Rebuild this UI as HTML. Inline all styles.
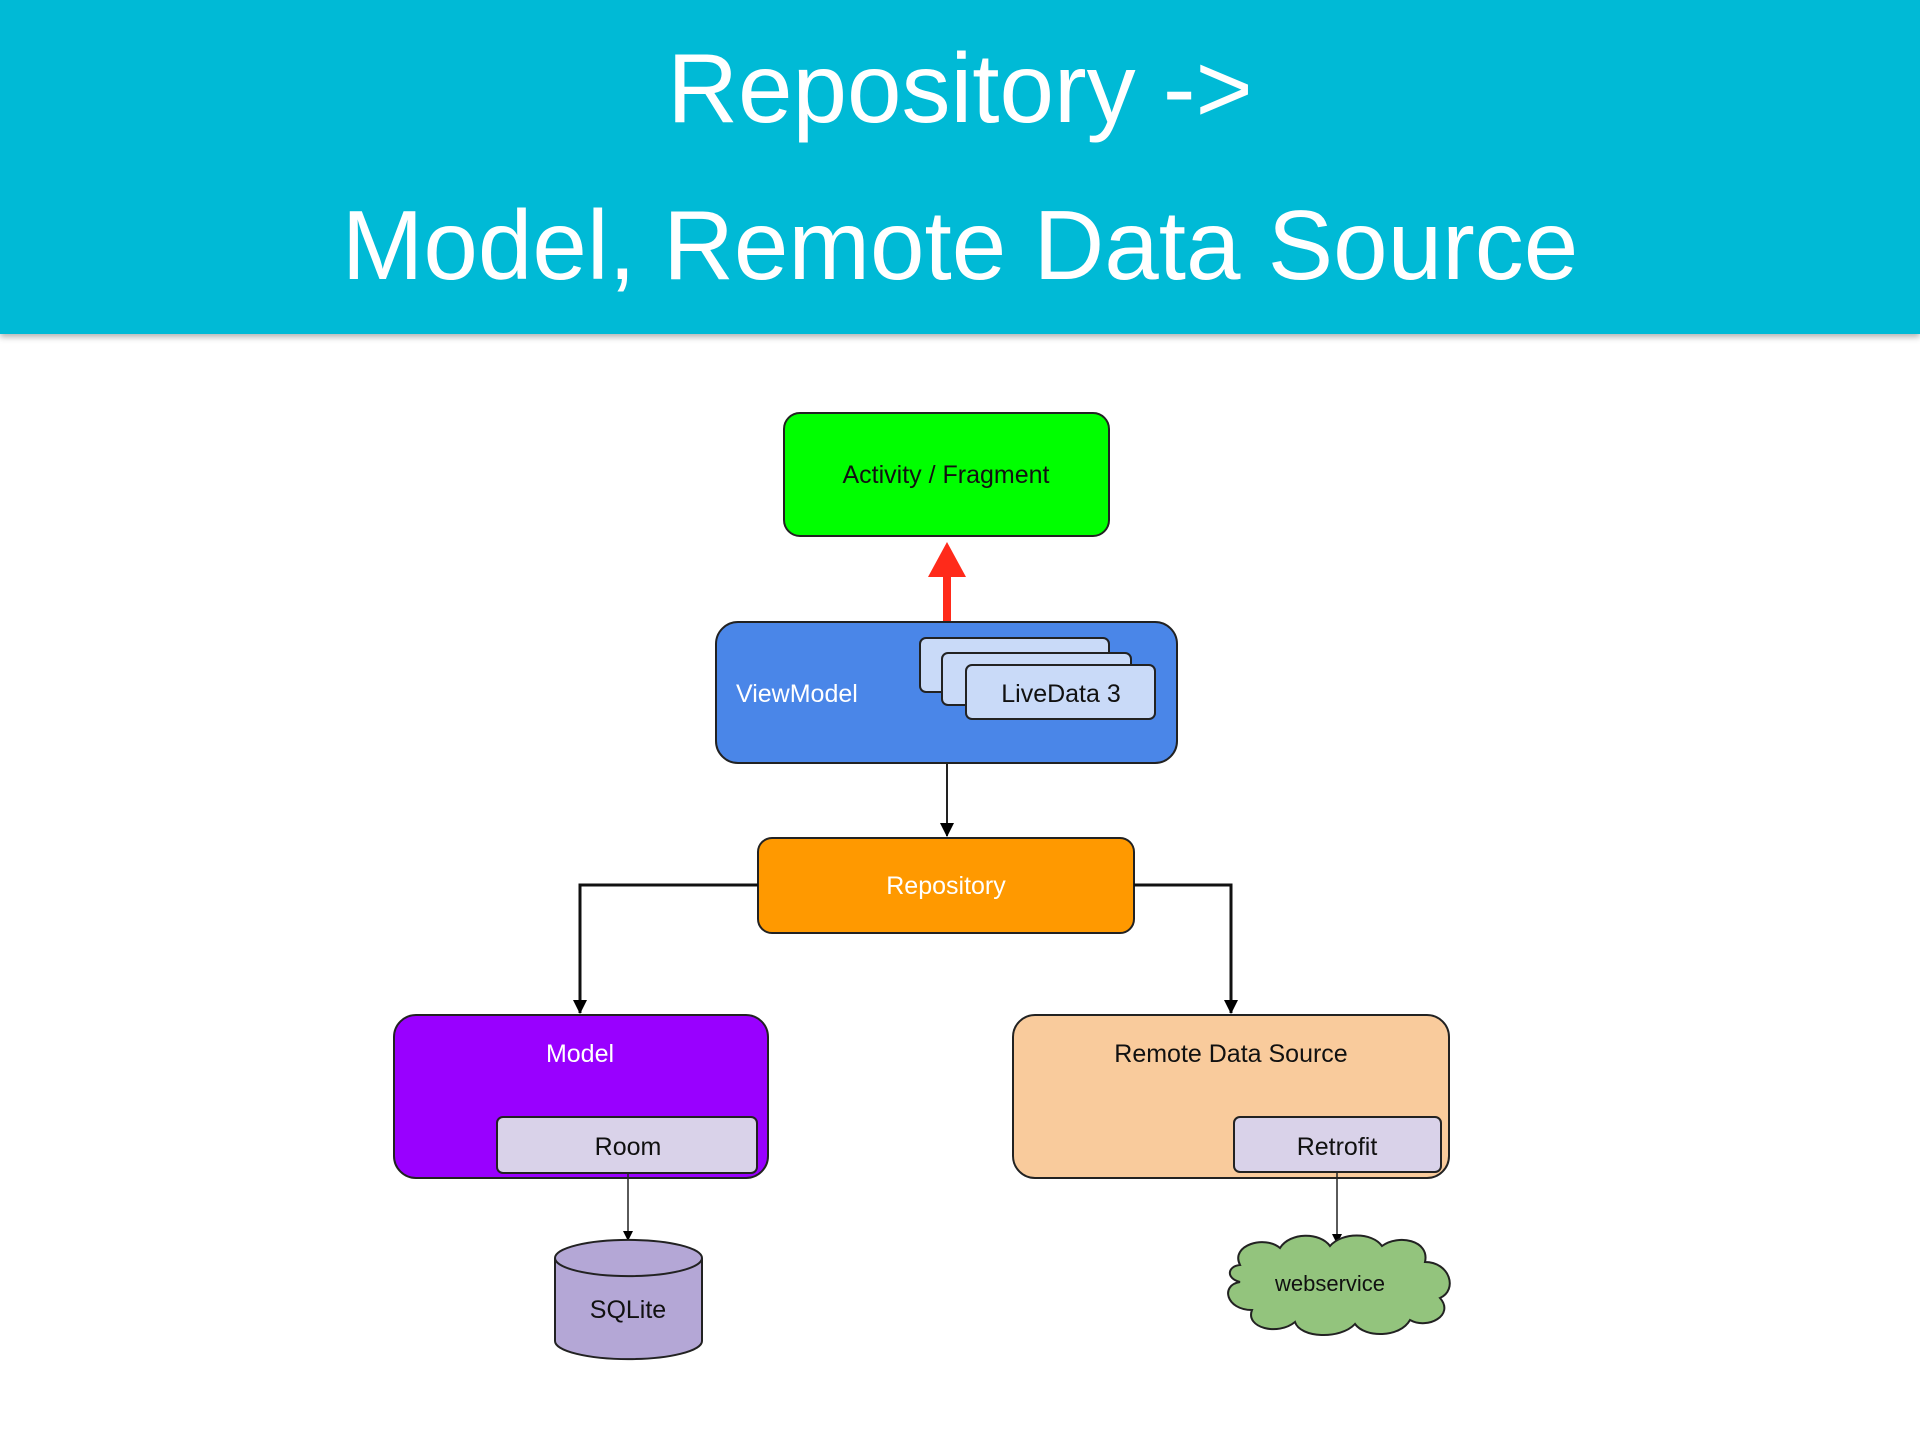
<!DOCTYPE html>
<html><head><meta charset="utf-8"><style>
html,body{margin:0;padding:0;width:1920px;height:1440px;background:#fff;overflow:hidden;font-family:"Liberation Sans",Arial,sans-serif}
.hdr{position:absolute;left:0;top:0;width:1920px;height:334px;background:#00bad6;box-shadow:0 3px 6px rgba(0,0,0,.3)}
.t{position:absolute;left:0;width:1920px;text-align:center;color:#fff;font-size:98px;line-height:110px}
</style></head><body>
<div class="hdr">
<div class="t" style="top:33px">Repository -&gt;</div>
<div class="t" style="top:190px">Model, Remote Data Source</div>
</div>
<svg width="1920" height="1440" style="position:absolute;left:0;top:0" font-family="Liberation Sans, Arial, sans-serif" font-size="25">
<defs><marker id="a" markerWidth="10" markerHeight="10" refX="9" refY="5" orient="auto" markerUnits="userSpaceOnUse"><path d="M0,0 L10,5 L0,10 z" fill="#000"/></marker>
<marker id="b" markerWidth="14" markerHeight="18" refX="13" refY="7" orient="auto" markerUnits="userSpaceOnUse"><path d="M0,0 L14,7 L0,14 z" fill="#000"/></marker></defs>
<rect x="784" y="413" width="325" height="123" rx="16" fill="#00ff00" stroke="#222" stroke-width="2"/>
<text x="946" y="483" text-anchor="middle" fill="#111">Activity / Fragment</text>
<rect x="943" y="574" width="8" height="49" fill="#ff2a1a"/>
<path d="M928,577 L947,542 L966,577 z" fill="#ff2a1a"/>
<rect x="716" y="622" width="461" height="141" rx="22" fill="#4a86e8" stroke="#222" stroke-width="2"/>
<text x="736" y="702" fill="#fff">ViewModel</text>
<rect x="920" y="638" width="189" height="54" rx="6" fill="#c9daf8" stroke="#222" stroke-width="2"/>
<rect x="942" y="653" width="189" height="52" rx="6" fill="#c9daf8" stroke="#222" stroke-width="2"/>
<rect x="966" y="665" width="189" height="54" rx="6" fill="#c9daf8" stroke="#222" stroke-width="2"/>
<text x="1061" y="702" text-anchor="middle" fill="#111">LiveData 3</text>
<line x1="947" y1="763" x2="947" y2="836" stroke="#222" stroke-width="2" marker-end="url(#b)"/>
<rect x="758" y="838" width="376" height="95" rx="14" fill="#ff9900" stroke="#222" stroke-width="2"/>
<text x="946" y="894" text-anchor="middle" fill="#fff">Repository</text>
<polyline points="758,885 580,885 580,1013" fill="none" stroke="#111" stroke-width="3" marker-end="url(#b)"/>
<polyline points="1134,885 1231,885 1231,1013" fill="none" stroke="#111" stroke-width="3" marker-end="url(#b)"/>
<rect x="394" y="1015" width="374" height="163" rx="22" fill="#9900ff" stroke="#222" stroke-width="2"/>
<text x="580" y="1062" text-anchor="middle" fill="#fff">Model</text>
<rect x="497" y="1117" width="260" height="56" rx="6" fill="#d9d2e9" stroke="#222" stroke-width="2"/>
<text x="628" y="1155" text-anchor="middle" fill="#111">Room</text>
<rect x="1013" y="1015" width="436" height="163" rx="22" fill="#f9cb9c" stroke="#222" stroke-width="2"/>
<text x="1231" y="1062" text-anchor="middle" fill="#111">Remote Data Source</text>
<rect x="1234" y="1117" width="207" height="55" rx="6" fill="#d9d2e9" stroke="#222" stroke-width="2"/>
<text x="1337" y="1155" text-anchor="middle" fill="#111">Retrofit</text>
<line x1="628" y1="1173" x2="628" y2="1240" stroke="#222" stroke-width="1.5" marker-end="url(#a)"/>
<line x1="1337" y1="1172" x2="1337" y2="1243" stroke="#222" stroke-width="1.5" marker-end="url(#a)"/>
<path d="M555,1258 L555,1341 A73,18 0 0 0 702,1341 L702,1258 A73,18 0 0 0 555,1258 z" fill="#b4a7d6" stroke="#222" stroke-width="2"/>
<path d="M555,1258 A73,18 0 0 0 702,1258" fill="none" stroke="#222" stroke-width="2"/>
<text x="628" y="1318" text-anchor="middle" fill="#111">SQLite</text>
<path d="M1240,1265 C1230,1245 1265,1235 1280,1248 C1290,1232 1320,1232 1330,1246 C1342,1232 1372,1232 1382,1246 C1398,1234 1430,1240 1425,1262 C1450,1262 1458,1290 1440,1298 C1455,1315 1428,1330 1410,1320 C1400,1338 1365,1338 1355,1324 C1340,1340 1300,1338 1295,1322 C1278,1336 1245,1328 1252,1310 C1226,1310 1220,1285 1240,1282 C1225,1278 1228,1266 1240,1265 z" fill="#93c47d" stroke="#222" stroke-width="2"/>
<text x="1330" y="1291" text-anchor="middle" fill="#111" font-size="22">webservice</text>
</svg>
</body></html>
